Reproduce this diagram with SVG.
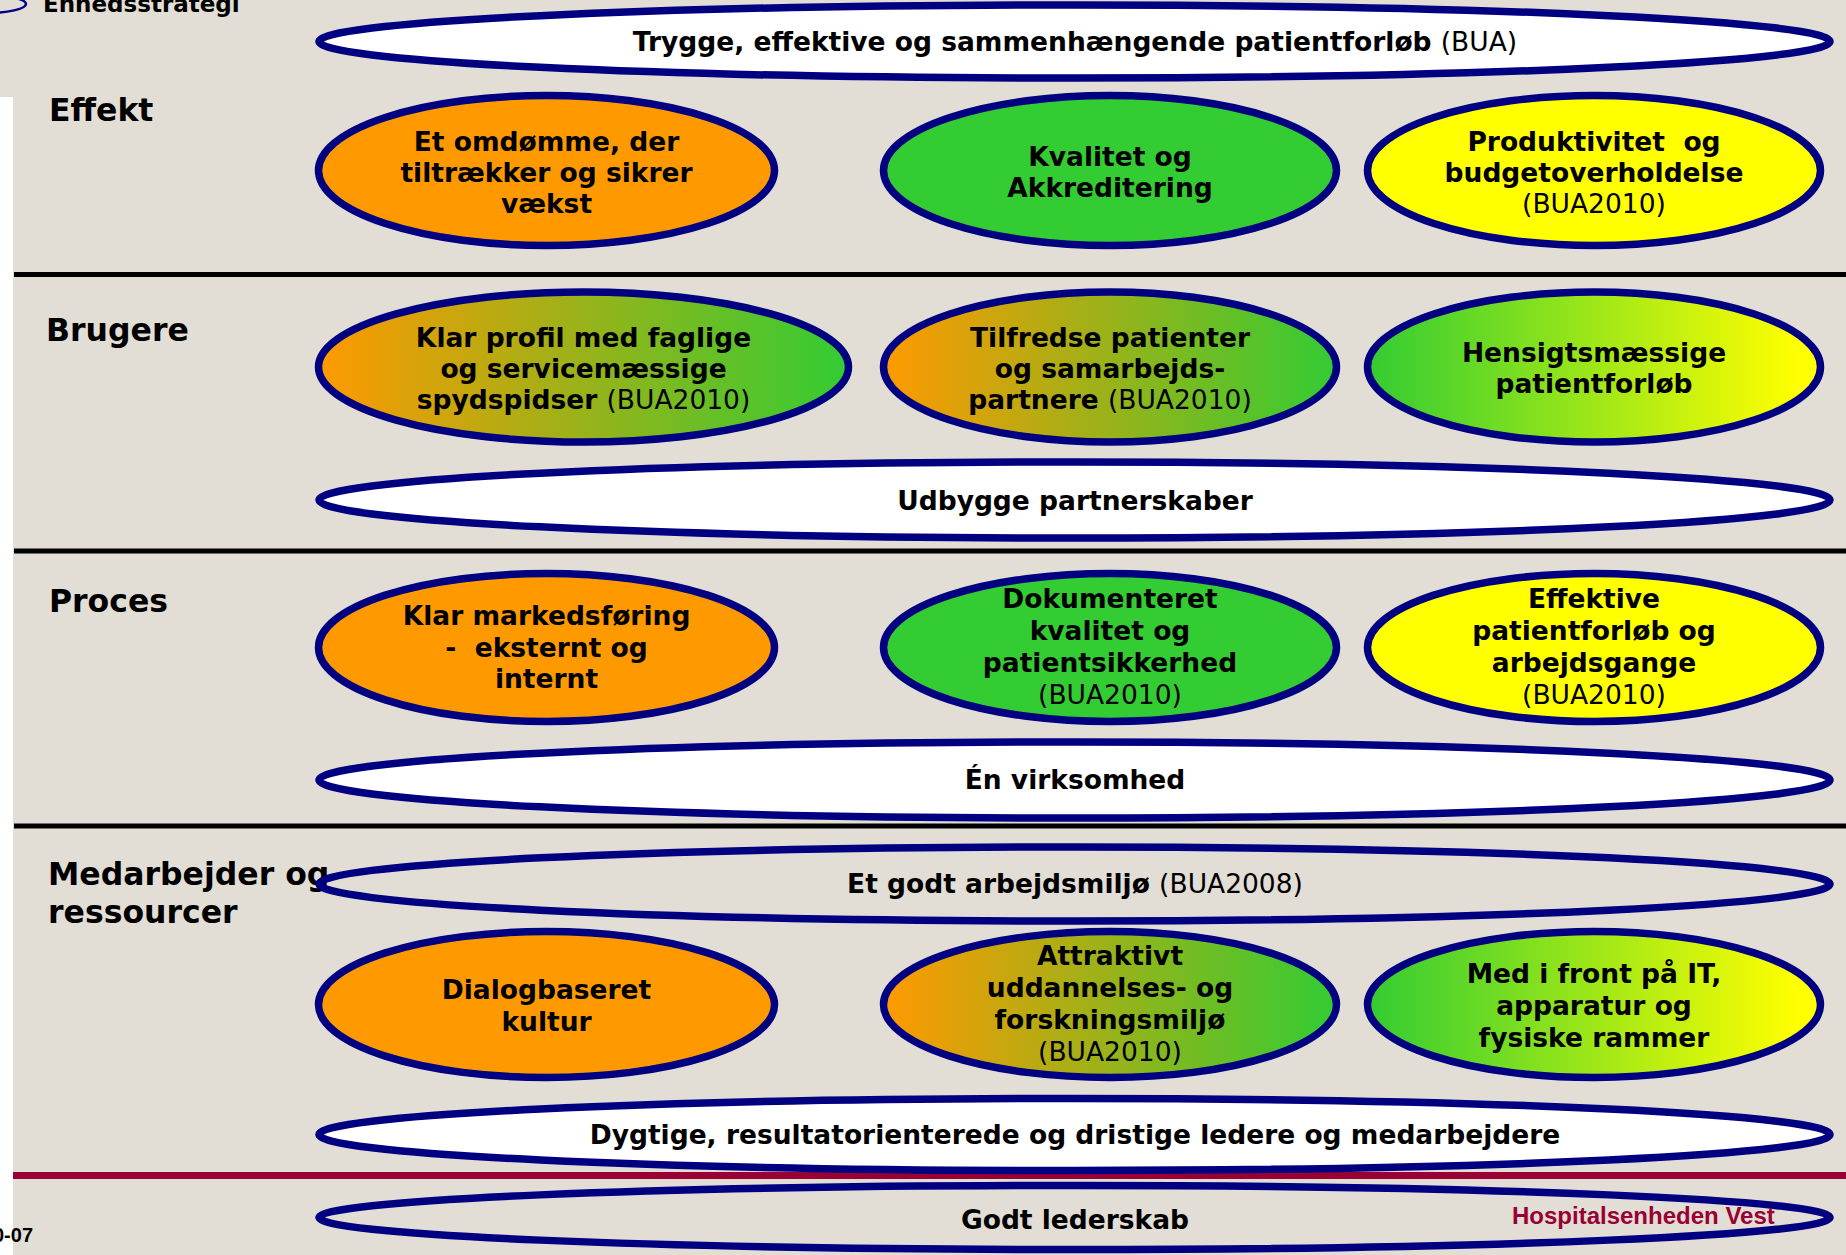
<svg xmlns="http://www.w3.org/2000/svg" width="1846" height="1255" viewBox="0 0 1846 1255">
<defs>
<linearGradient id="og" x1="0" y1="0" x2="1" y2="0"><stop offset="0" stop-color="#FF9900"/><stop offset="1" stop-color="#33CC33"/></linearGradient>
<linearGradient id="gy" x1="0" y1="0" x2="1" y2="0"><stop offset="0" stop-color="#33CC33"/><stop offset="0.95" stop-color="#FFFF00"/></linearGradient>
</defs>
<style>
.el{stroke:#000080;stroke-width:7.5}
.or{fill:#FF9900}.gr{fill:#33CC33}.ye{fill:#FFFF00}.wh{fill:#FFFFFF}.no{fill:none}
.t{font-family:"DejaVu Sans",Verdana,sans-serif;font-weight:bold;font-size:26.5px;fill:#000;text-anchor:middle}
.r{font-weight:normal}
.lab{font-family:"DejaVu Sans",Verdana,sans-serif;font-weight:bold;font-size:31.5px;fill:#000}
.sep{stroke:#000;stroke-width:5}
</style>
<rect x="0" y="0" width="1846" height="1255" fill="#E2DED5"/>
<rect x="0" y="97" width="13" height="1158" fill="#FFFFFF"/>
<ellipse cx="-15" cy="4" rx="41" ry="9" fill="none" stroke="#000080" stroke-width="2.5"/>
<text x="43" y="12" font-family="DejaVu Sans,Verdana,sans-serif" font-weight="bold" font-size="23">Enhedsstrategi</text>
<text x="33" y="1242" text-anchor="end" font-family="Liberation Sans,Arial,sans-serif" font-weight="bold" font-size="20">0-07</text>

<g id="separators">
<line class="sep" x1="14" y1="274.5" x2="1846" y2="274.5"/>
<line class="sep" x1="14" y1="551" x2="1846" y2="551"/>
<line class="sep" x1="14" y1="826" x2="1846" y2="826"/>
<line x1="13" y1="1175.5" x2="1846" y2="1175.5" stroke="#990033" stroke-width="7"/>
</g>

<g id="labels">
<text class="lab" x="49" y="121">Effekt</text>
<text class="lab" x="46" y="341">Brugere</text>
<text class="lab" x="49" y="612">Proces</text>
<text class="lab" x="48" y="885">Medarbejder og</text>
<text class="lab" x="48" y="923">ressourcer</text>
</g>

<g id="n-trygge">
<ellipse class="el wh" cx="1074.5" cy="41.5" rx="755.5" ry="36.5"/>
<text class="t" x="1075" y="51">Trygge, effektive og sammenhængende patientforløb <tspan class="r">(BUA)</tspan></text>
</g>

<g id="n-omdomme">
<ellipse class="el or" cx="546.5" cy="170.5" rx="228" ry="75"/>
<text class="t" x="546.5" y="151">Et omdømme, der</text>
<text class="t" x="546.5" y="182">tiltrækker og sikrer</text>
<text class="t" x="546.5" y="213">vækst</text>
</g>
<g id="n-kvalitet">
<ellipse class="el gr" cx="1110" cy="170.5" rx="226.5" ry="75"/>
<text class="t" x="1110" y="166">Kvalitet og</text>
<text class="t" x="1110" y="197">Akkreditering</text>
</g>
<g id="n-produktivitet">
<ellipse class="el ye" cx="1594" cy="170.5" rx="226.5" ry="75"/>
<text class="t" x="1594" y="151" xml:space="preserve">Produktivitet  og</text>
<text class="t" x="1594" y="182">budgetoverholdelse</text>
<text class="t r" x="1594" y="213">(BUA2010)</text>
</g>

<g id="n-profil">
<ellipse class="el" fill="url(#og)" cx="583.5" cy="367" rx="265" ry="75"/>
<text class="t" x="583.5" y="347">Klar profil med faglige</text>
<text class="t" x="583.5" y="378">og servicemæssige</text>
<text class="t" x="583.5" y="409">spydspidser <tspan class="r">(BUA2010)</tspan></text>
</g>
<g id="n-tilfredse">
<ellipse class="el" fill="url(#og)" cx="1110" cy="367" rx="226.5" ry="75"/>
<text class="t" x="1110" y="347">Tilfredse patienter</text>
<text class="t" x="1110" y="378">og samarbejds-</text>
<text class="t" x="1110" y="409">partnere <tspan class="r">(BUA2010)</tspan></text>
</g>
<g id="n-hensigts">
<ellipse class="el" fill="url(#gy)" cx="1594" cy="367" rx="226.5" ry="75"/>
<text class="t" x="1594" y="362">Hensigtsmæssige</text>
<text class="t" x="1594" y="393">patientforløb</text>
</g>
<g id="n-udbygge">
<ellipse class="el wh" cx="1074.5" cy="500" rx="755.5" ry="38"/>
<text class="t" x="1075" y="510">Udbygge partnerskaber</text>
</g>

<g id="n-markedsforing">
<ellipse class="el or" cx="546.5" cy="647.5" rx="228" ry="74"/>
<text class="t" x="546.5" y="625">Klar markedsføring</text>
<text class="t" x="546.5" y="657" xml:space="preserve">-  eksternt og</text>
<text class="t" x="546.5" y="688">internt</text>
</g>
<g id="n-dokumenteret">
<ellipse class="el gr" cx="1110" cy="647.5" rx="226.5" ry="74"/>
<text class="t" x="1110" y="608">Dokumenteret</text>
<text class="t" x="1110" y="640">kvalitet og</text>
<text class="t" x="1110" y="672">patientsikkerhed</text>
<text class="t r" x="1110" y="704">(BUA2010)</text>
</g>
<g id="n-effektive">
<ellipse class="el ye" cx="1594" cy="647.5" rx="226.5" ry="74"/>
<text class="t" x="1594" y="608">Effektive</text>
<text class="t" x="1594" y="640">patientforløb og</text>
<text class="t" x="1594" y="672">arbejdsgange</text>
<text class="t r" x="1594" y="704">(BUA2010)</text>
</g>
<g id="n-virksomhed">
<ellipse class="el wh" cx="1074.5" cy="780" rx="755.5" ry="38"/>
<text class="t" x="1075" y="789">Én virksomhed</text>
</g>

<g id="n-arbejdsmiljo">
<ellipse class="el no" cx="1074.5" cy="884" rx="755.5" ry="37"/>
<text class="t" x="1075" y="893">Et godt arbejdsmiljø <tspan class="r">(BUA2008)</tspan></text>
</g>
<g id="n-dialog">
<ellipse class="el or" cx="546.5" cy="1004.5" rx="228" ry="73"/>
<text class="t" x="546.5" y="999">Dialogbaseret</text>
<text class="t" x="546.5" y="1031">kultur</text>
</g>
<g id="n-attraktivt">
<ellipse class="el" fill="url(#og)" cx="1110" cy="1004.5" rx="226.5" ry="73"/>
<text class="t" x="1110" y="965">Attraktivt</text>
<text class="t" x="1110" y="997">uddannelses- og</text>
<text class="t" x="1110" y="1029">forskningsmiljø</text>
<text class="t r" x="1110" y="1061">(BUA2010)</text>
</g>
<g id="n-front">
<ellipse class="el" fill="url(#gy)" cx="1594" cy="1004.5" rx="226.5" ry="73"/>
<text class="t" x="1594" y="983">Med i front på IT,</text>
<text class="t" x="1594" y="1015">apparatur og</text>
<text class="t" x="1594" y="1047">fysiske rammer</text>
</g>
<g id="n-dygtige">
<ellipse class="el wh" cx="1074.5" cy="1134.5" rx="755.5" ry="36"/>
<text class="t" x="1075" y="1144">Dygtige, resultatorienterede og dristige ledere og medarbejdere</text>
</g>
<g id="n-lederskab">
<ellipse class="el no" cx="1074.5" cy="1217.5" rx="755.5" ry="32"/>
<text class="t" x="1075" y="1229">Godt lederskab</text>
</g>
<text x="1512" y="1224" font-family="Liberation Sans,Arial,sans-serif" font-weight="bold" font-size="24" fill="#990033">Hospitalsenheden Vest</text>
</svg>
